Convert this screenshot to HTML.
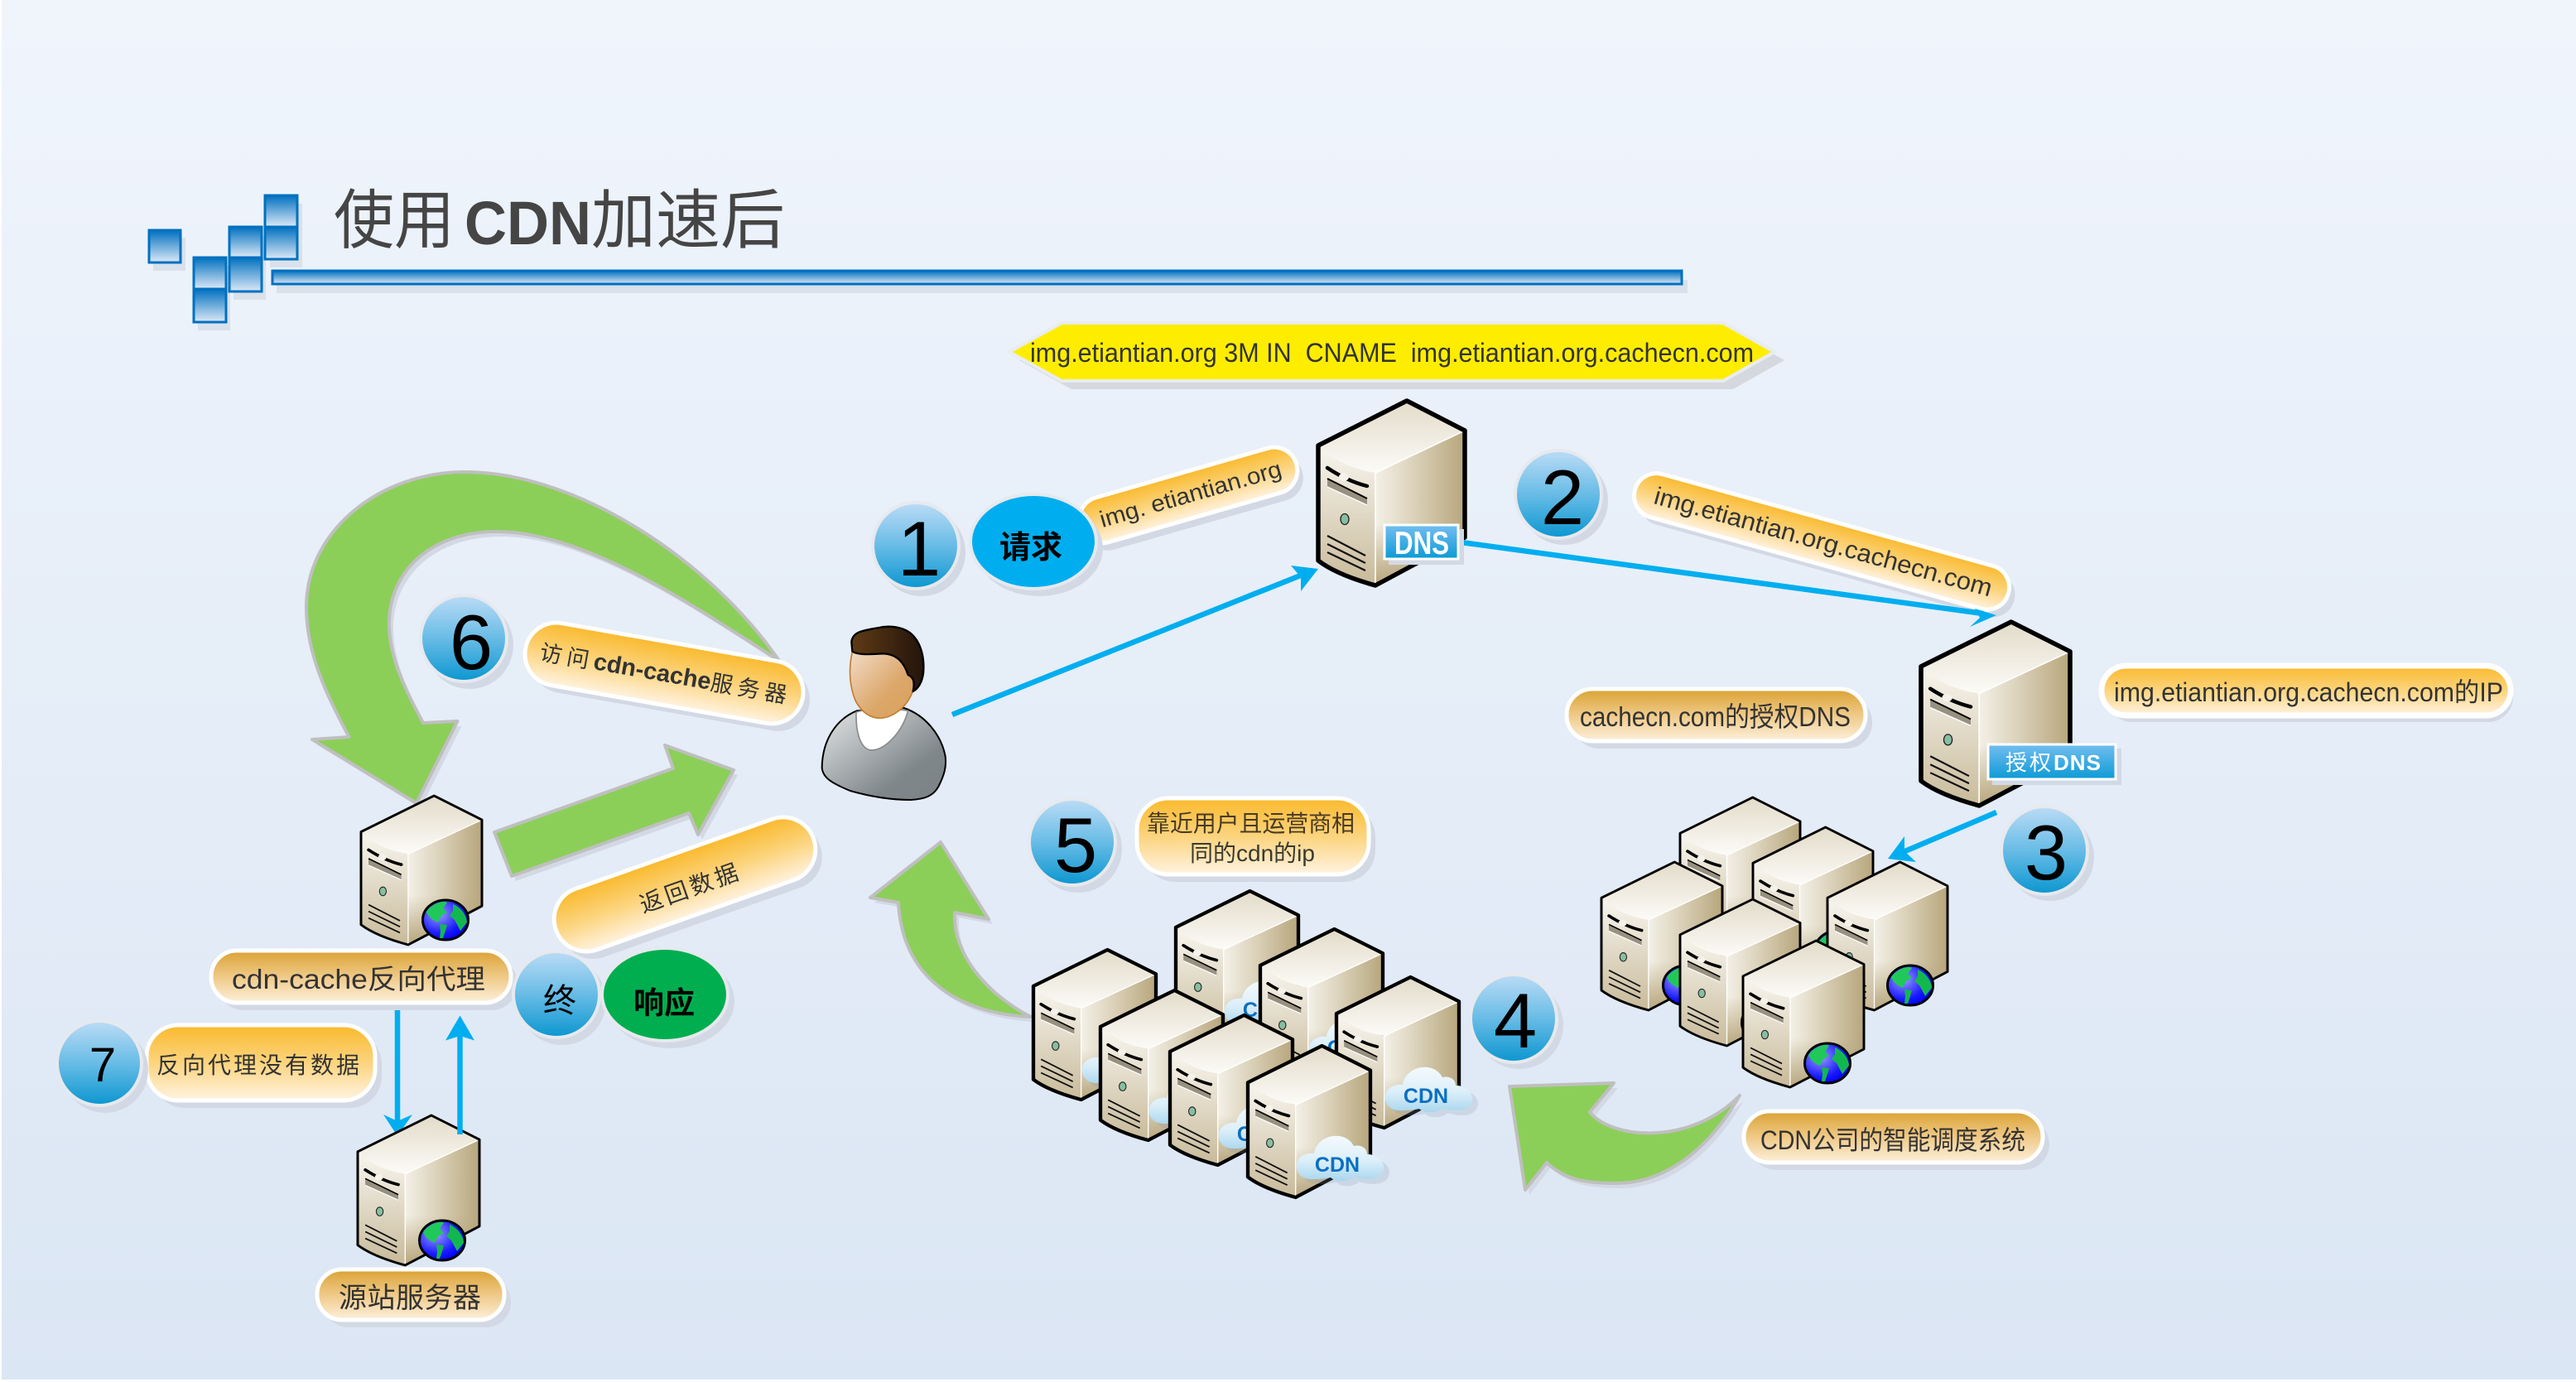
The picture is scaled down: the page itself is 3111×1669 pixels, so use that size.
<!DOCTYPE html>
<html lang="zh"><head><meta charset="utf-8"><title>使用CDN加速后</title>
<style>
html,body{margin:0;padding:0;background:#fff}
svg{display:block}
text{font-family:"Liberation Sans","Noto Sans CJK SC",sans-serif;fill:#333}
.g{fill:#8bcf59;stroke:#bfbfbf;stroke-width:4;stroke-linejoin:round}
.gs{fill:#d3d9e4}
.ps{fill:#d3d9e4}
.p{stroke:#fff;stroke-width:5}
.b{stroke:#00aeef;stroke-width:6.5;fill:none}
.h{fill:#00aeef}
.n{fill:url(#num);stroke:#e6e9ee;stroke-width:4}
.d{font-size:94px;fill:#000;text-anchor:middle}
.c{font-size:25px;font-weight:700;fill:#0a6fc2;text-anchor:middle}
.sq{stroke:#0070c0;stroke-width:3;fill:url(#sq)}
</style></head><body>
<svg xmlns="http://www.w3.org/2000/svg" width="3111" height="1669" viewBox="0 0 3111 1669">
<defs>
<linearGradient id="bg" x1="0" y1="0" x2="0" y2="1"><stop offset="0" stop-color="#f0f5fc"/><stop offset="1" stop-color="#dbe6f4"/></linearGradient>
<linearGradient id="sq" x1="0" y1="0" x2="0" y2="1"><stop offset="0" stop-color="#0070c0"/><stop offset="1" stop-color="#dde9f6"/></linearGradient>
<linearGradient id="num" x1="0" y1="0" x2="0" y2="1"><stop offset="0" stop-color="#bcdcf6"/><stop offset=".5" stop-color="#68bce6"/><stop offset="1" stop-color="#0b96d0"/></linearGradient>
<linearGradient id="p1" x1="0" y1="0" x2="0" y2="1"><stop offset="0" stop-color="#f9b92c"/><stop offset=".5" stop-color="#fcd47e"/><stop offset="1" stop-color="#fff3e2"/></linearGradient>
<linearGradient id="p2" x1="0" y1="0" x2="0" y2="1"><stop offset="0" stop-color="#daa233"/><stop offset=".5" stop-color="#efc987"/><stop offset="1" stop-color="#fdf0dc"/></linearGradient>
<linearGradient id="tag" x1="0" y1="0" x2="0" y2="1"><stop offset="0" stop-color="#73bef0"/><stop offset="1" stop-color="#0c9ad6"/></linearGradient>
<linearGradient id="stop" x1="0" y1="0" x2="0" y2="1"><stop offset="0" stop-color="#e2dbc9"/><stop offset="1" stop-color="#fcfbf7"/></linearGradient>
<linearGradient id="sright" x1="0" y1="0" x2="1" y2="0"><stop offset="0" stop-color="#f3f0e7"/><stop offset=".4" stop-color="#ddd4bd"/><stop offset="1" stop-color="#b7a67c"/></linearGradient>
<linearGradient id="sright2" x1="0" y1="0" x2="0" y2="1"><stop offset=".6" stop-color="#b7a67c" stop-opacity="0"/><stop offset="1" stop-color="#b7a67c"/></linearGradient>
<linearGradient id="sfront" x1="0" y1="0" x2="0" y2="1"><stop offset="0" stop-color="#f8f6ef"/><stop offset="1" stop-color="#c8ba9a"/></linearGradient>
<radialGradient id="gl" cx=".35" cy=".35" r=".7"><stop offset="0" stop-color="#9a9cff"/><stop offset=".7" stop-color="#1a1aff"/><stop offset="1" stop-color="#0000f0"/></radialGradient>
<linearGradient id="cl" x1="0" y1="0" x2="0" y2="1"><stop offset="0" stop-color="#f4fafd"/><stop offset=".55" stop-color="#dceff9"/><stop offset="1" stop-color="#a8d6ee"/></linearGradient>
<linearGradient id="body" x1="0" y1="0" x2="1" y2="1"><stop offset="0" stop-color="#e6e8e8"/><stop offset=".7" stop-color="#7f878b"/><stop offset="1" stop-color="#7a8286"/></linearGradient>
<linearGradient id="face" x1="0" y1="0" x2="1" y2="1"><stop offset="0" stop-color="#f2dcc8"/><stop offset=".6" stop-color="#dca76a"/><stop offset="1" stop-color="#d9a05c"/></linearGradient>
<linearGradient id="hair" x1="0" y1="0" x2="1" y2="0"><stop offset="0" stop-color="#5e3b15"/><stop offset="1" stop-color="#24140b"/></linearGradient>
<symbol id="srv" viewBox="0 0 177 223" preserveAspectRatio="none" overflow="visible">
<path d="M69,87 L177,36 L177,165 L69,223 Z" fill="url(#sright)"/>
<path d="M69,87 L177,36 L177,165 L69,223 Z" fill="url(#sright2)"/>
<path d="M0,54 Q25,80 69,87 L69,223 Q22,210 0,193 Z" fill="url(#sfront)"/>
<path d="M107,0 L177,36 L69,87 Q25,80 0,54 Z" fill="url(#stop)"/>
<path d="M177,36 L69,87 L69,223" fill="none" stroke="#fff" stroke-width="1.6"/>
<path d="M11,81 Q35,97 59,103" stroke="#000" stroke-width="4.5" stroke-linecap="round" fill="none"/>
<ellipse cx="31" cy="92" rx="6" ry="5" fill="#f5f2ea"/>
<path d="M11,94 L59,118 L59,126 L11,104 Z" fill="#97917f"/>
<path d="M11,94 L59,118" stroke="#000" stroke-width="2" fill="none"/>
<path d="M11,104 L59,126" stroke="#fff" stroke-width="1.5" fill="none"/>
<ellipse cx="32" cy="143" rx="5" ry="6.5" fill="#86bfa0" stroke="#222" stroke-width="1.3"/>
<path d="M11,163 L57,187 M11,173 L57,196 M11,183 L57,205" stroke="#111" stroke-width="2.2" fill="none"/>
<path d="M107,0 L177,36 L177,165 L69,223 Q22,210 0,193 L0,54 Z" fill="none" stroke="#000" stroke-linejoin="round"/>
</symbol>
<symbol id="globe" viewBox="0 0 58 50" overflow="visible">
<ellipse cx="29" cy="25" rx="27.5" ry="24" fill="url(#gl)" stroke="#000" stroke-width="3"/>
<path d="M6,15 C14,4 28,1 31,4 L26,11 L31,16 L24,20 L20,28 C13,25 8,21 6,15Z" fill="#20c85a"/>
<path d="M38,6 C48,10 55,20 55,28 L47,38 L40,25 L34,20 L38,14 Z" fill="#12b84f"/>
<path d="M22,30 L31,31 L29,38 L26,47 L22,47 L23,38 Z" fill="#12b84f"/>
</symbol>
<symbol id="cloud" viewBox="0 0 108 56" overflow="visible">
<path transform="translate(7,6)" d="M20,54 C6,54 0,42 4,32 C8,24 18,22 24,23 C26,8 42,0 54,2 C64,3 70,10 72,14 C80,12 88,16 88,24 C100,24 108,32 108,40 C108,50 98,54 88,54 C80,54 74,52 72,51 C64,58 50,58 44,52 C36,54 28,54 20,54Z" fill="#8a97ab" opacity=".22"/>
<path d="M20,54 C6,54 0,42 4,32 C8,24 18,22 24,23 C26,8 42,0 54,2 C64,3 70,10 72,14 C80,12 88,16 88,24 C100,24 108,32 108,40 C108,50 98,54 88,54 C80,54 74,52 72,51 C64,58 50,58 44,52 C36,54 28,54 20,54Z" fill="url(#cl)"/>
</symbol>
</defs>

<rect width="3111" height="1669" fill="#fff"/>
<rect x="2" width="3109" height="1666" fill="url(#bg)"/>

<!-- title decoration -->
<g fill="#b8c2d0" opacity=".35">
<rect x="185" y="287" width="39" height="40"/><rect x="239" y="321" width="39" height="78"/><rect x="282" y="284" width="39" height="78"/><rect x="326" y="246" width="39" height="77"/><rect x="334" y="338" width="1704" height="16"/>
</g>
<rect class="sq" x="180" y="278" width="38" height="39"/>
<rect class="sq" x="234" y="311" width="39" height="38"/><rect class="sq" x="234" y="349" width="39" height="40"/>
<rect class="sq" x="277" y="274" width="39" height="37"/><rect class="sq" x="277" y="311" width="39" height="41"/>
<rect class="sq" x="320" y="236" width="39" height="38"/><rect class="sq" x="320" y="274" width="39" height="39"/>
<rect x="329" y="327" width="1702" height="16" fill="url(#sq)" stroke="#0070c0" stroke-width="3"/>
<text x="403" y="293" font-size="78" textLength="146" lengthAdjust="spacingAndGlyphs" style="fill:#454545">使用</text>
<text x="561" y="295" font-size="74" font-weight="700" textLength="153" lengthAdjust="spacingAndGlyphs" style="fill:#454545">CDN</text>
<text x="714" y="293" font-size="78" textLength="234" lengthAdjust="spacingAndGlyphs" style="fill:#454545">加速后</text>

<!-- banner -->
<polygon points="1231,435 1294,400 2093,400 2155,435 2093,470 1294,470" fill="#d5d9df"/>
<polygon points="1219,425 1282,390 2081,390 2143,425 2081,460 1282,460" fill="#ffed00" stroke="#e9ecf0" stroke-width="4"/>
<text x="1244" y="437" font-size="32" textLength="874" lengthAdjust="spacingAndGlyphs" xml:space="preserve">img.etiantian.org 3M IN  CNAME  img.etiantian.org.cachecn.com</text>

<!-- green arrows -->
<g transform="translate(5,6)" class="gs">
<path d="M941,798 C860,680 700,570 561,570 C460,570 370,640 370,733 C370,790 395,840 421.5,890 L377,893 L503,970 L552.5,871 L511,873 C485,825 470,790 470,753 C470,690 520,642 600,642 C710,642 850,740 941,798 Z"/>
<polygon points="597,1005 813,928 803,900 886,930 843,1008 832,982 618,1058"/>
<path d="M1136,1017 L1194,1110 L1153,1102 C1150,1150 1190,1200 1245,1228 C1170,1225 1090,1190 1085,1090 L1051,1084 Z"/>
<path d="M1823,1312 L1949,1308 L1920,1343 C1945,1375 2040,1385 2101,1323 C2060,1395 2005,1429 1952,1429 C1915,1429 1890,1425 1868,1404 L1842,1437 Z"/>
</g>
<path class="g" d="M941,798 C860,680 700,570 561,570 C460,570 370,640 370,733 C370,790 395,840 421.5,890 L377,893 L503,970 L552.5,871 L511,873 C485,825 470,790 470,753 C470,690 520,642 600,642 C710,642 850,740 941,798 Z"/>
<polygon class="g" points="597,1005 813,928 803,900 886,930 843,1008 832,982 618,1058"/>
<path class="g" d="M1136,1017 L1194,1110 L1153,1102 C1150,1150 1190,1200 1245,1228 C1170,1225 1090,1190 1085,1090 L1051,1084 Z"/>
<path class="g" d="M1823,1312 L1949,1308 L1920,1343 C1945,1375 2040,1385 2101,1323 C2060,1395 2005,1429 1952,1429 C1915,1429 1890,1425 1868,1404 L1842,1437 Z"/>

<!-- pills rotated -->
<g class="ps">
<rect x="1299" y="570" width="272" height="56" rx="28" transform="translate(7,9) rotate(-16 1435 598)"/>
<rect x="1966" y="627" width="468" height="54" rx="27" transform="translate(7,9) rotate(15.5 2200 654)"/>
<rect x="632" y="775" width="340" height="76" rx="38" transform="translate(8,9) rotate(10 802 813)"/>
<rect x="662" y="1029" width="330" height="78" rx="39" transform="translate(8,9) rotate(-19.5 827 1068)"/>
</g>
<g transform="rotate(-16 1435 598)"><rect class="p" x="1299" y="570" width="272" height="56" rx="28" fill="url(#p1)"/>
<text x="1438" y="607" font-size="28" text-anchor="middle" textLength="227" lengthAdjust="spacingAndGlyphs">img. etiantian.org</text></g>
<g transform="rotate(15.5 2200 654)"><rect class="p" x="1966" y="627" width="468" height="54" rx="27" fill="url(#p1)"/>
<text x="2202" y="664" font-size="30" text-anchor="middle" textLength="422" lengthAdjust="spacingAndGlyphs">img.etiantian.org.cachecn.com</text></g>
<g transform="rotate(10 802 813)"><rect class="p" x="632" y="775" width="340" height="76" rx="38" fill="url(#p1)"/>
<text x="650" y="823" font-size="27"><tspan letter-spacing="6">访问</tspan><tspan font-weight="700" font-size="29">cdn-cache</tspan><tspan letter-spacing="6">服务器</tspan></text></g>
<g transform="rotate(-19.5 827 1068)"><rect class="p" x="662" y="1029" width="330" height="78" rx="39" fill="url(#p1)"/>
<text x="830" y="1084" font-size="28" text-anchor="middle" textLength="124">返回数据</text></g>

<!-- pills straight -->
<g class="ps">
<rect x="1900" y="841" width="361" height="63" rx="31"/>
<rect x="2545" y="812" width="490" height="60" rx="30"/>
<rect x="1381" y="973" width="280" height="92" rx="38"/>
<rect x="185" y="1247" width="276" height="91" rx="38"/>
<rect x="2114" y="1351" width="361" height="62" rx="31"/>
</g>
<rect class="p" x="1892" y="832" width="361" height="63" rx="31" fill="url(#p2)"/>
<text x="1908" y="877" font-size="33" textLength="327" lengthAdjust="spacingAndGlyphs">cachecn.com的授权DNS</text>
<rect x="2538" y="804" width="494" height="60" rx="30" fill="url(#p1)" stroke="#fff" stroke-width="7"/>
<text x="2553" y="847" font-size="32" textLength="470" lengthAdjust="spacingAndGlyphs">img.etiantian.org.cachecn.com的IP</text>
<rect class="p" x="1373" y="964" width="280" height="92" rx="38" fill="url(#p1)"/>
<text x="1385" y="1004" font-size="28" textLength="251" style="fill:#4a3a22">靠近用户且运营商相</text>
<text x="1437" y="1040" font-size="28" textLength="151" lengthAdjust="spacingAndGlyphs" style="fill:#3a3a30">同的cdn的ip</text>
<rect class="p" x="177" y="1238" width="276" height="91" rx="38" fill="url(#p1)"/>
<text x="189" y="1296" font-size="28" textLength="245">反向代理没有数据</text>
<rect class="p" x="2106" y="1342" width="361" height="62" rx="31" fill="url(#p2)"/>
<text x="2126" y="1388" font-size="32" textLength="320" lengthAdjust="spacingAndGlyphs">CDN公司的智能调度系统</text>

<!-- blue arrows behind servers -->
<line class="b" x1="480" y1="1213" x2="480" y2="1356"/>
<polygon class="h" points="463,1346 480,1354 498,1346 480,1372"/>

<!-- DNS servers -->
<use href="#srv" x="1592" y="484" width="177" height="223" stroke-width="5.5"/>
<use href="#srv" x="2320" y="751" width="180" height="222" stroke-width="5.5"/>

<!-- authoritative cluster -->
<use href="#srv" x="2029" y="963" width="145" height="179" stroke-width="3.6"/><use href="#globe" x="2102" y="1087" width="58" height="50"/>
<use href="#srv" x="2117" y="999" width="145" height="179" stroke-width="3.6"/><use href="#globe" x="2190" y="1123" width="58" height="50"/>
<use href="#srv" x="1934" y="1041" width="146" height="179" stroke-width="3.6"/><use href="#globe" x="2007" y="1165" width="58" height="50"/>
<use href="#srv" x="2207" y="1041" width="145" height="179" stroke-width="3.6"/><use href="#globe" x="2278" y="1165" width="58" height="50"/>
<use href="#srv" x="2029" y="1086" width="145" height="177" stroke-width="3.6"/><use href="#globe" x="2102" y="1210" width="58" height="50"/>
<use href="#srv" x="2105" y="1136" width="146" height="177" stroke-width="3.6"/><use href="#globe" x="2178" y="1259" width="58" height="50"/>

<!-- CDN cluster -->
<use href="#srv" x="1420" y="1076" width="148" height="181" stroke-width="5.2"/><use href="#cloud" x="1476" y="1183" width="108" height="56"/><text class="c" x="1528" y="1228">CDN</text>
<use href="#srv" x="1248" y="1147" width="148" height="181" stroke-width="5.2"/><use href="#cloud" x="1304" y="1254" width="108" height="56"/><text class="c" x="1356" y="1299">CDN</text>
<use href="#srv" x="1522" y="1122" width="148" height="181" stroke-width="5.2"/><use href="#cloud" x="1578" y="1229" width="108" height="56"/><text class="c" x="1630" y="1274">CDN</text>
<use href="#srv" x="1329" y="1196" width="148" height="181" stroke-width="5.2"/><use href="#cloud" x="1385" y="1303" width="108" height="56"/><text class="c" x="1437" y="1348">CDN</text>
<use href="#srv" x="1614" y="1180" width="148" height="182" stroke-width="5.2"/><use href="#cloud" x="1670" y="1287" width="108" height="56"/><text class="c" x="1722" y="1332">CDN</text>
<use href="#srv" x="1413" y="1226" width="148" height="181" stroke-width="5.2"/><use href="#cloud" x="1469" y="1333" width="108" height="56"/><text class="c" x="1521" y="1378">CDN</text>
<use href="#srv" x="1507" y="1263" width="148" height="183" stroke-width="5.2"/><use href="#cloud" x="1563" y="1370" width="108" height="56"/><text class="c" x="1615" y="1415">CDN</text>

<!-- left servers -->
<use href="#srv" x="436" y="961" width="146" height="180" stroke-width="3.6"/><use href="#globe" x="509" y="1086" width="58" height="50"/>
<use href="#srv" x="432" y="1347" width="147" height="181" stroke-width="3.6"/><use href="#globe" x="505" y="1473" width="58" height="50"/>

<!-- labels over left servers -->
<rect class="ps" x="263" y="1157" width="362" height="63" rx="31"/>
<rect class="p" x="255" y="1148" width="362" height="63" rx="31" fill="url(#p2)"/>
<text x="280" y="1194" font-size="33" textLength="306" lengthAdjust="spacingAndGlyphs">cdn-cache反向代理</text>
<rect class="ps" x="391" y="1542" width="226" height="61" rx="30"/>
<rect class="p" x="383" y="1533" width="226" height="61" rx="30" fill="url(#p2)"/>
<text x="409" y="1579" font-size="34" textLength="172" lengthAdjust="spacing">源站服务器</text>

<!-- blue arrows on top -->
<line class="b" x1="1150" y1="863" x2="1578" y2="692"/>
<polygon class="h" points="1592,687 1559,683 1571,697 1571,714"/>
<line class="b" x1="1765" y1="655" x2="2395" y2="741"/>
<polygon class="h" points="2411,743 2385,735 2391,746 2379,757"/>
<line class="b" x1="2411" y1="981" x2="2296" y2="1030"/>
<polygon class="h" points="2280,1037 2300,1010 2300,1028 2314,1041"/>
<line class="b" x1="555.5" y1="1370" x2="555.5" y2="1245"/>
<polygon class="h" points="555.5,1226.5 538,1256.5 555.5,1251 573,1256.5"/>

<!-- tags -->
<rect x="1677" y="639" width="91" height="43" fill="#d3d9e4"/>
<rect x="1672" y="634" width="89" height="41" fill="url(#tag)" stroke="#fff" stroke-width="3"/>
<text x="1684" y="669" font-size="39" font-weight="700" textLength="66" lengthAdjust="spacingAndGlyphs" style="fill:#fff">DNS</text>
<rect x="2406" y="904" width="156" height="44" fill="#d3d9e4"/>
<rect x="2401" y="899" width="154" height="42" fill="url(#tag)" stroke="#fff" stroke-width="3"/>
<text x="2422" y="930" font-size="26" style="fill:#fff"><tspan letter-spacing="3">授权</tspan><tspan font-weight="700" letter-spacing="1">DNS</tspan></text>

<!-- person -->
<g transform="translate(960,720) scale(.33333)">
<path d="M225,415 C150,445 100,520 98,620 C100,660 140,680 200,705 C270,725 350,738 420,738 C470,735 500,725 520,690 C540,650 550,620 545,580 C530,500 470,430 395,405 Z" fill="url(#body)" stroke="#000" stroke-width="6"/>
<path d="M222,420 C220,500 240,558 280,558 C330,555 390,490 410,415 L300,400 Z" fill="#fff" stroke="#8a8a8a" stroke-width="5"/>
<path d="M208,200 C195,260 195,320 220,380 C245,425 275,442 310,442 C350,440 400,410 425,350 C435,320 430,300 425,290 L400,200 Z" fill="url(#face)" stroke="#c27f30" stroke-width="5"/>
<path d="M205,165 C210,130 240,125 300,115 C340,105 390,110 420,135 C460,170 470,230 465,280 C460,315 445,335 428,345 C435,310 430,295 410,285 C395,240 370,210 320,208 C280,210 230,215 208,200 Z" fill="url(#hair)" stroke="#000" stroke-width="7" stroke-linejoin="round"/>
</g>

<!-- number circles -->
<g class="ps">
<ellipse cx="1113" cy="667" rx="53" ry="53"/>
<ellipse cx="1889" cy="605" rx="53" ry="53"/>
<ellipse cx="2476" cy="1035" rx="53" ry="53"/>
<ellipse cx="1835" cy="1238" rx="53" ry="53"/>
<ellipse cx="1302" cy="1025" rx="53" ry="53"/>
<ellipse cx="567" cy="779" rx="53" ry="53"/>
<ellipse cx="127" cy="1292" rx="52" ry="52"/>
<ellipse cx="679" cy="1209" rx="53" ry="53"/>
<ellipse cx="1255" cy="662" rx="77" ry="58"/>
<ellipse cx="810" cy="1209" rx="77" ry="57"/>
</g>
<ellipse class="n" cx="1106" cy="659" rx="52" ry="52"/><text class="d" x="1110" y="695">1</text>
<ellipse class="n" cx="1882" cy="597" rx="52" ry="53"/><text class="d" x="1887" y="633">2</text>
<ellipse class="n" cx="2469" cy="1027" rx="52" ry="53"/><text class="d" x="2471" y="1062">3</text>
<ellipse class="n" cx="1828" cy="1230" rx="52" ry="53"/><text class="d" x="1830" y="1265">4</text>
<ellipse class="n" cx="1295" cy="1017" rx="52" ry="52"/><text class="d" x="1299" y="1053">5</text>
<ellipse class="n" cx="560" cy="771" rx="52" ry="52"/><text class="d" x="569" y="808">6</text>
<ellipse class="n" cx="120" cy="1284" rx="51" ry="51"/><text x="124" y="1306" font-size="58" text-anchor="middle" style="fill:#000">7</text>
<ellipse class="n" cx="672" cy="1201" rx="52" ry="52"/><text x="676" y="1222" font-size="40" text-anchor="middle" style="fill:#000">终</text>
<ellipse cx="1248" cy="654" rx="76" ry="57" fill="#00aeef" stroke="#e6e9ee" stroke-width="4"/>
<text x="1245" y="674" font-size="38" font-weight="700" text-anchor="middle" style="fill:#000">请求</text>
<ellipse cx="803" cy="1201" rx="76" ry="56" fill="#00ae50" stroke="#e6e9ee" stroke-width="4"/>
<text x="802" y="1224" font-size="37" font-weight="700" text-anchor="middle" style="fill:#000">响应</text>
</svg>
</body></html>
